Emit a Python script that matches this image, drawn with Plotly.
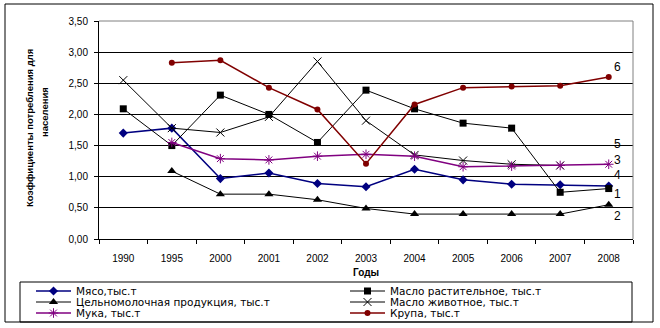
import plotly.graph_objects as go

years = ["1990", "1995", "2000", "2001", "2002", "2003", "2004", "2005", "2006", "2007", "2008"]
myaso = [1.70, 1.78, 0.97, 1.06, 0.89, 0.84, 1.12, 0.95, 0.88, 0.87, 0.85]
maslo_rast = [2.09, 1.50, 2.31, 2.00, 1.55, 2.39, 2.09, 1.86, 1.78, 0.75, 0.81]
moloko = [None, 1.09, 0.72, 0.72, 0.63, 0.49, 0.40, 0.40, 0.40, 0.40, 0.55]
maslo_zhiv = [2.55, 1.78, 1.71, 1.96, 2.85, 1.90, 1.35, 1.26, 1.20, 1.18, None]
muka = [None, 1.55, 1.29, 1.27, 1.33, 1.36, 1.33, 1.16, 1.17, 1.18, 1.20]
krupa = [None, 2.83, 2.87, 2.43, 2.08, 1.21, 2.16, 2.43, 2.45, 2.46, 2.60]

names = ["Мясо,тыс.т", "Масло растительное, тыс.т", "Цельномолочная продукция, тыс.т",
         "Масло животное, тыс.т", "Мука, тыс.т", "Крупа, тыс.т"]
end_labels = ["6", "5", "3", "4", "1", "2"]
end_label_y = [2.76, 1.52, 1.27, 1.03, 0.72, 0.37]

FONT = "Liberation Sans, Arial, sans-serif"
LEG_FONT = "DejaVu Sans, Verdana, sans-serif"

# plot area in px: x 99..633, y 21..239
L, R, T, B = 99, 633, 21, 239
W, H = 660, 328

def px_x(p):
    return (p - L) / (R - L)

def px_y(p):
    return (B - p) / (B - T)

fig = go.Figure()

series = [
    (myaso, names[0], "#000080", 1.5, dict(symbol="diamond", size=7, color="#000080"), "legend"),
    (maslo_rast, names[1], "#000000", 1, dict(symbol="square", size=7, color="#000000"), "legend2"),
    (moloko, names[2], "#000000", 1, dict(symbol="triangle-up", size=8, color="#000000"), "legend3"),
    (maslo_zhiv, names[3], "#000000", 1, dict(symbol="x-thin-open", size=8, color="#000000",
                                              line=dict(width=1, color="#000000")), "legend4"),
    (muka, names[4], "#800080", 1.5, dict(symbol="asterisk-open", size=8, color="#800080",
                                          line=dict(width=1, color="#800080")), "legend5"),
    (krupa, names[5], "#800000", 1.5, dict(symbol="circle", size=6, color="#800000"), "legend6"),
]

for vals, name, color, lw, marker, lg in series:
    fig.add_trace(go.Scatter(
        x=years, y=vals, name=name, mode="lines+markers",
        line=dict(color=color, width=lw), marker=marker,
        connectgaps=False, legend=lg,
    ))

col_x = [px_x(31), px_x(345)]
row_y = [px_y(291), px_y(302), px_y(313)]
leg_common = dict(xanchor="left", yanchor="middle", bgcolor="rgba(0,0,0,0)",
                  borderwidth=0, font=dict(size=10.5, family=LEG_FONT, color="#000000"),
                  itemwidth=35, tracegroupgap=0)
legends = {}
keys = ["legend", "legend2", "legend3", "legend4", "legend5", "legend6"]
for i, k in enumerate(keys):
    legends[k] = dict(x=col_x[i % 2], y=row_y[i // 2], **leg_common)

annotations = []
for lab, yv in zip(end_labels, end_label_y):
    annotations.append(dict(x=px_x(623), y=yv, xref="paper", yref="y", text=lab,
                            showarrow=False, font=dict(size=12, family=FONT, color="#000000")))
annotations.append(dict(x=px_x(366), y=px_y(272), xref="paper", yref="paper", text="<b>Годы</b>",
                        yanchor="middle", xanchor="center",
                        showarrow=False, font=dict(size=10, family=FONT, color="#000000")))
annotations.append(dict(x=px_x(29), y=px_y(128), xref="paper", yref="paper",
                        xanchor="center", yanchor="middle",
                        text="<b>Коэффициенты потребления для</b>", textangle=-90,
                        showarrow=False, font=dict(size=9.5, family=FONT, color="#000000")))
annotations.append(dict(x=px_x(44), y=px_y(112), xref="paper", yref="paper",
                        xanchor="center", yanchor="middle",
                        text="<b>населения</b>", textangle=-90,
                        showarrow=False, font=dict(size=9.5, family=FONT, color="#000000")))

shapes = [
    # outer chart frame
    dict(type="rect", xref="paper", yref="paper", x0=px_x(5), x1=px_x(653), y0=px_y(322), y1=px_y(4),
         line=dict(color="#000000", width=1)),
    # legend frame
    dict(type="rect", xref="paper", yref="paper", x0=px_x(20), x1=px_x(632), y0=px_y(322), y1=px_y(282),
         line=dict(color="#000000", width=1)),
    # plot area top and right border (gray)
    dict(type="line", xref="paper", yref="paper", x0=0, x1=1, y0=1, y1=1,
         line=dict(color="#808080", width=1), layer="above"),
    dict(type="line", xref="paper", yref="paper", x0=1, x1=1, y0=0, y1=1,
         line=dict(color="#808080", width=1), layer="above"),
]

fig.update_layout(
    width=W, height=H,
    margin=dict(l=L, r=W - R, t=T, b=H - B, pad=0, autoexpand=False),
    paper_bgcolor="white", plot_bgcolor="white",
    separators=", ",
    font=dict(family=FONT, size=10, color="#000000"),
    showlegend=True,
    annotations=annotations,
    shapes=shapes,
    **legends,
)

fig.update_xaxes(
    type="category", categoryorder="array", categoryarray=years,
    range=[-0.5, len(years) - 0.5],
    showgrid=False, zeroline=False,
    showline=True, linecolor="#000000", linewidth=1,
    ticks="outside", tickson="boundaries", ticklen=4, tickcolor="#000000", tickwidth=1,
    tickfont=dict(size=10, family=FONT, color="#000000"),
    ticklabelstandoff=10,
)
fig.update_yaxes(
    range=[0, 3.5], tickmode="linear", tick0=0, dtick=0.5, tickformat=".2f",
    showgrid=True, gridcolor="#000000", gridwidth=1, zeroline=False,
    showline=True, linecolor="#000000", linewidth=1,
    ticks="outside", ticklen=4, tickcolor="#000000", tickwidth=1,
    tickfont=dict(size=10, family=FONT, color="#000000"),
    ticklabelstandoff=4,
)

fig.write_html("out.html")
